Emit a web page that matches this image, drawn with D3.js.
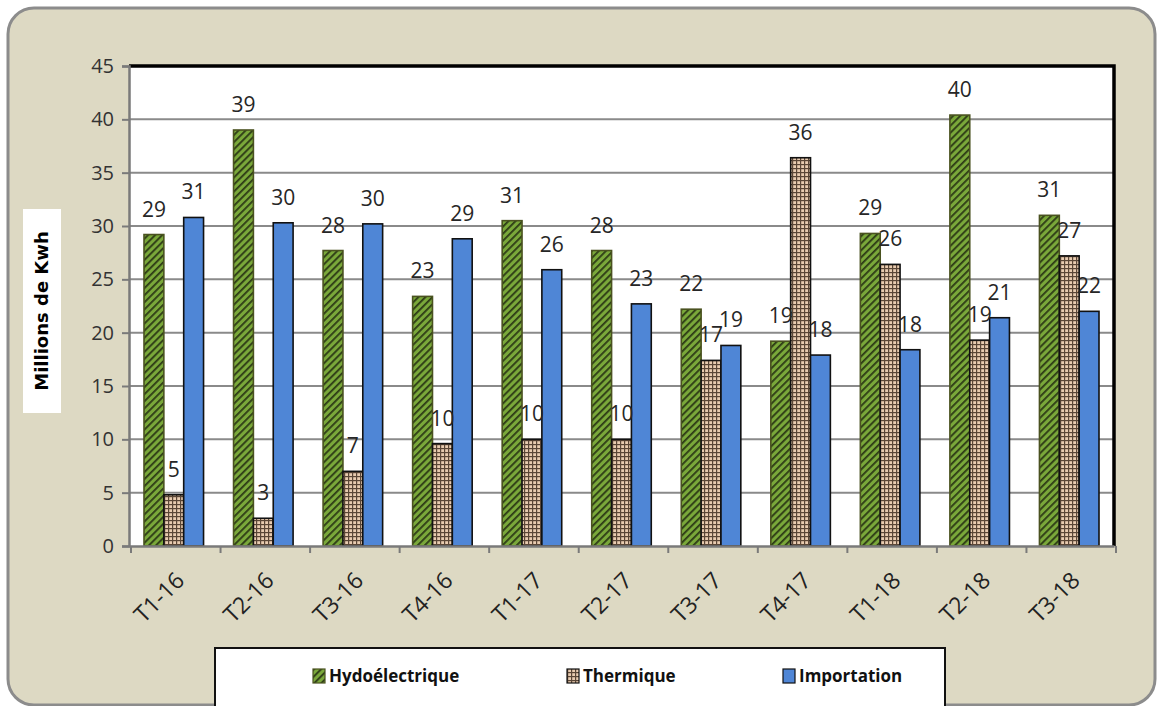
<!DOCTYPE html>
<html>
<head>
<meta charset="utf-8">
<script src="https://cdnjs.cloudflare.com/ajax/libs/d3/7.8.5/d3.min.js"></script>
<style>
  body { margin: 0; background: #fff; }
  svg { display: block; }
</style>
</head>
<body>
<svg id="chart" width="1158" height="706"></svg>
<script>
// quarters
var categories = ['T1-16', 'T2-16', 'T3-16', 'T4-16', 'T1-17', 'T2-17', 'T3-17', 'T4-17', 'T1-18', 'T2-18', 'T3-18']
var seriesNames = ['Hydoélectrique', 'Thermique', 'Importation']
var hydro = [29.2, 39.0, 27.7, 23.4, 30.5, 27.7, 22.2, 19.2, 29.3, 40.4, 31.0]
var thermique = [4.8, 2.6, 7.0, 9.6, 10.0, 10.0, 17.4, 36.4, 26.4, 19.3, 27.2]
var importation = [30.8, 30.3, 30.2, 28.8, 25.9, 22.7, 18.8, 17.9, 18.4, 21.4, 22.0]
var yTicks = [0, 5, 10, 15, 20, 25, 30, 35, 40, 45]

var svg = d3.select('#chart')
var defs = svg.append('defs')

// hatched green
var pg = defs.append('pattern').attr('id', 'pHydro').attr('patternUnits', 'userSpaceOnUse')
    .attr('width', 5).attr('height', 5).attr('patternTransform', 'rotate(45)')
pg.append('rect').attr('width', 5).attr('height', 5).attr('fill', '#7aa83a')
pg.append('rect').attr('width', 1.8).attr('height', 5).attr('fill', '#2d3a16')

// dotted brown
var pt = defs.append('pattern').attr('id', 'pTherm').attr('patternUnits', 'userSpaceOnUse')
    .attr('width', 4).attr('height', 4)
pt.append('rect').attr('width', 4).attr('height', 4).attr('fill', '#e9ccb0')
pt.append('rect').attr('width', 4).attr('height', 1.2).attr('fill', '#5a4636')
pt.append('rect').attr('width', 1.2).attr('height', 4).attr('fill', '#5a4636')

var fills = ['url(#pHydro)', 'url(#pTherm)', '#4f86d6']
var strokes = ['#4a5220', '#111', '#111']

// outer panel
svg.append('rect')
    .attr('x', 8).attr('y', 8).attr('width', 1147).attr('height', 697)
    .attr('rx', 26).attr('ry', 26)
    .attr('fill', '#ddd9c3').attr('stroke', '#8c8c8c').attr('stroke-width', 3)

var margin = { left: 129, top: 66, right: 1114, bottom: 546 }

var x = d3.scaleBand().domain(categories).range([margin.left, margin.right]).paddingInner(0.335).paddingOuter(0.1675)
var xs = d3.scaleBand().domain(seriesNames).range([0, x.bandwidth()])
var y = d3.scaleLinear().domain([0, 45]).range([margin.bottom, margin.top])

// plot area
svg.append('rect')
    .attr('x', margin.left).attr('y', margin.top)
    .attr('width', margin.right - margin.left).attr('height', margin.bottom - margin.top)
    .attr('fill', '#fff')

// grid
svg.append('g').selectAll('line').data(yTicks.filter(function(d) { return d > 0 && d < 45 })).enter()
    .append('line')
    .attr('x1', margin.left).attr('x2', margin.right)
    .attr('y1', function(d) { return y(d) }).attr('y2', function(d) { return y(d) })
    .attr('stroke', '#8a8a8a').attr('stroke-width', 2)

// bars
var data = [hydro, thermique, importation]
data.forEach(function(vals, si) {
    var g = svg.append('g')
    g.selectAll('rect').data(vals).enter().append('rect')
        .attr('x', function(d, i) { return x(categories[i]) + xs(seriesNames[si]) })
        .attr('y', function(d) { return y(d) })
        .attr('width', xs.bandwidth())
        .attr('height', function(d) { return y(0) - y(d) })
        .attr('fill', fills[si])
        .attr('stroke', strokes[si]).attr('stroke-width', 1.6)
})
data.forEach(function(vals, si) {
    svg.append('g').selectAll('text').data(vals).enter().append('text')
        .attr('x', function(d, i) { return x(categories[i]) + xs(seriesNames[si]) + xs.bandwidth() / 2 })
        .attr('y', function(d) { return y(d) - 18 })
        .attr('text-anchor', 'middle')
        .attr('font-family', 'Open Sans, sans-serif').attr('font-size', 21)
        .attr('fill', '#262626')
        .text(function(d) { return Math.round(d) })
})

// plot border: black top & right
svg.append('path')
    .attr('d', 'M' + margin.left + ',' + margin.top + 'H' + margin.right + 'V' + margin.bottom)
    .attr('fill', 'none').attr('stroke', '#000').attr('stroke-width', 3.5)

// y axis
var yAxis = svg.append('g').attr('transform', 'translate(' + margin.left + ',0)')
    .call(d3.axisLeft(y).tickValues(yTicks).tickSize(7).tickPadding(8))
yAxis.select('.domain').attr('stroke', '#7a7a7a').attr('stroke-width', 2.5)
yAxis.selectAll('.tick line').attr('stroke', '#7a7a7a').attr('stroke-width', 2)
yAxis.selectAll('text').attr('font-family', 'Open Sans, sans-serif').attr('font-size', 20).attr('fill', '#333')

// x axis
var xAxis = svg.append('g').attr('transform', 'translate(0,' + margin.bottom + ')')
    .call(d3.axisBottom(x).tickSize(0).tickPadding(0))
xAxis.select('.domain').attr('stroke', '#7a7a7a').attr('stroke-width', 2.5)
xAxis.selectAll('.tick text')
    .attr('font-family', 'Open Sans, sans-serif').attr('font-size', 23).attr('fill', '#222')
    .attr('text-anchor', 'end')
    .attr('dy', 0)
    .attr('transform', 'translate(12,36) rotate(-45)')
// tick marks between categories
var step = x.step()
svg.append('g').selectAll('line').data(d3.range(categories.length + 1)).enter()
    .append('line')
    .attr('x1', function(i) { return margin.left + 2 + i * step })
    .attr('x2', function(i) { return margin.left + 2 + i * step })
    .attr('y1', margin.bottom).attr('y2', margin.bottom + 7)
    .attr('stroke', '#7a7a7a').attr('stroke-width', 2)

// y title
var ty = svg.append('g').attr('transform', 'translate(42,311) rotate(-90)')
ty.append('rect').attr('x', -102).attr('y', -19).attr('width', 204).attr('height', 38).attr('fill', '#fff')
ty.append('text').attr('text-anchor', 'middle').attr('dy', '0.35em')
    .attr('font-family', 'DejaVu Sans, sans-serif').attr('font-weight', 'bold').attr('font-size', 18)
    .attr('fill', '#000')
    .text('Millions de Kwh')

// legend
svg.append('rect').attr('x', 215).attr('y', 648).attr('width', 730).attr('height', 70)
    .attr('fill', '#fff').attr('stroke', '#111').attr('stroke-width', 2)
var legX = [313, 567, 783]
var leg = svg.append('g').selectAll('g').data(seriesNames).enter().append('g')
    .attr('transform', function(d, i) { return 'translate(' + legX[i] + ',676)' })
leg.append('rect').attr('x', 0).attr('y', -7).attr('width', 12).attr('height', 14)
    .attr('fill', function(d, i) { return fills[i] })
    .attr('stroke', function(d, i) { return strokes[i] }).attr('stroke-width', 1.2)
leg.append('text').attr('x', 16).attr('dy', '0.35em')
    .attr('font-family', 'Open Sans, sans-serif').attr('font-weight', 'bold').attr('font-size', 17)
    .attr('fill', '#111')
    .text(function(d) { return d })
</script>
</body>
</html>
